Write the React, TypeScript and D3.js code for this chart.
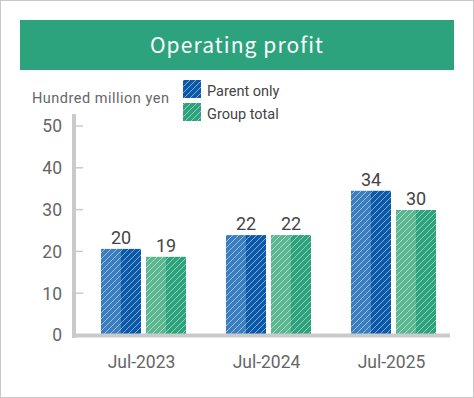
import { useEffect, useRef } from 'react';
import * as d3 from 'd3';

const categories = ['Jul-2023', 'Jul-2024', 'Jul-2025'];
const seriesNames = ['Parent only', 'Group total'];
// bar heights as drawn in the picture
const parentValues = [20.6, 23.9, 34.5];
const groupValues = [18.7, 23.9, 29.9];
// labels printed above the bars
const parentLabels = ['20', '22', '34'];
const groupLabels = ['19', '22', '30'];
const yTicks = [0, 10, 20, 30, 40, 50];

const W = 474;
const H = 398;
const FONT = 'Roboto, "Noto Sans", sans-serif';

const colors = [
  { light: '#3a7ec0', dark: '#0b5aa9' },
  { light: '#5bb692', dark: '#2ca37c' },
];

export default function App() {
  const svgRef = useRef<SVGSVGElement>(null);

  useEffect(() => {
    if (!svgRef.current) return;
    const svg = d3.select(svgRef.current);
    svg.selectAll('*').remove();

    const x0 = d3.scaleBand<string>().domain(categories).range([81, 456]);
    const x1 = d3.scaleBand<string>().domain(seriesNames).range([-42.5, 42.5]).paddingInner(1 / 9);
    const y = d3.scaleLinear().domain([0, 50]).range([335, 126]);

    const defs = svg.append('defs');
    defs.append('pattern')
      .attr('id', 'hatch')
      .attr('patternUnits', 'userSpaceOnUse')
      .attr('width', 6)
      .attr('height', 6)
      .append('path')
      .attr('d', 'M-1,1 l2,-2 M0,6 l6,-6 M5,7 l2,-2')
      .attr('stroke', '#fff')
      .attr('stroke-opacity', 0.55)
      .attr('stroke-width', 0.9);

    // outer frame
    svg.append('rect')
      .attr('x', 0.5).attr('y', 0.5)
      .attr('width', W - 1).attr('height', H - 1)
      .attr('fill', '#fff')
      .attr('stroke', '#c8c8c8');

    // title banner
    svg.append('rect')
      .attr('x', 20).attr('y', 20)
      .attr('width', 434).attr('height', 50)
      .attr('fill', '#2ca37c');
    svg.append('text')
      .attr('x', 237).attr('y', 53)
      .attr('text-anchor', 'middle')
      .attr('fill', '#fff')
      .attr('font-family', '"Noto Sans CJK JP", "Noto Sans", sans-serif')
      .attr('font-size', 21)
      .attr('letter-spacing', 1.1)
      .text('Operating profit');

    // unit label
    svg.append('text')
      .attr('x', 32).attr('y', 103)
      .attr('fill', '#666')
      .attr('font-family', FONT)
      .attr('font-size', 14.5)
      .attr('letter-spacing', 0.5)
      .text('Hundred million yen');

    // legend
    const legend = svg.append('g');
    seriesNames.forEach((name, i) => {
      const ly = 80 + i * 23;
      legend.append('rect').attr('x', 183).attr('y', ly).attr('width', 18).attr('height', 18)
        .attr('fill', colors[i].dark);
      legend.append('rect').attr('x', 183).attr('y', ly).attr('width', 18).attr('height', 18)
        .attr('fill', 'url(#hatch)');
      legend.append('text')
        .attr('x', 207).attr('y', ly + 15.5)
        .attr('fill', '#444')
        .attr('font-family', FONT)
        .attr('font-size', 14.5)
        .text(name);
    });

    // y axis
    svg.append('rect')
      .attr('x', 72).attr('y', 114)
      .attr('width', 4).attr('height', 224)
      .attr('fill', '#cacaca');
    const yAxis = svg.append('g');
    yTicks.forEach((t) => {
      if (t > 0) {
        yAxis.append('line')
          .attr('x1', 76).attr('x2', 83)
          .attr('y1', y(t)).attr('y2', y(t))
          .attr('stroke', '#cacaca').attr('stroke-width', 1.5);
      }
      yAxis.append('text')
        .attr('x', 62).attr('y', y(t))
        .attr('dy', '0.36em')
        .attr('text-anchor', 'end')
        .attr('fill', '#666')
        .attr('font-family', FONT)
        .attr('font-size', 17.5)
        .text(t);
    });

    // bars
    const seriesData = [
      { values: parentValues, labels: parentLabels },
      { values: groupValues, labels: groupLabels },
    ];
    seriesData.forEach((s, si) => {
      const g = svg.append('g');
      categories.forEach((c, ci) => {
        const bx = x0(c)! + x0.bandwidth() / 2 + x1(seriesNames[si])!;
        const bw = x1.bandwidth();
        const top = y(s.values[ci]);
        const h = y(0) - top;
        g.append('rect').attr('x', bx).attr('y', top).attr('width', bw / 2).attr('height', h)
          .attr('fill', colors[si].light);
        g.append('rect').attr('x', bx + bw / 2).attr('y', top).attr('width', bw / 2).attr('height', h)
          .attr('fill', colors[si].dark);
        g.append('rect').attr('x', bx).attr('y', top).attr('width', bw).attr('height', h)
          .attr('fill', 'url(#hatch)');
        g.append('text')
          .attr('x', bx + bw / 2).attr('y', top - 5)
          .attr('text-anchor', 'middle')
          .attr('fill', '#444')
          .attr('font-family', FONT)
          .attr('font-size', 18)
          .text(s.labels[ci]);
      });
    });

    // x axis
    svg.append('rect')
      .attr('x', 72).attr('y', 333.5)
      .attr('width', 378).attr('height', 4)
      .attr('fill', '#cacaca');
    categories.forEach((c) => {
      svg.append('text')
        .attr('x', x0(c)! + x0.bandwidth() / 2 - 2)
        .attr('y', 368)
        .attr('text-anchor', 'middle')
        .attr('fill', '#666')
        .attr('font-family', FONT)
        .attr('font-size', 17.5)
        .text(c);
    });
  }, []);

  return (
    <div style={{ position: 'fixed', left: 0, top: 0 }}>
      <svg ref={svgRef} width={W} height={H} style={{ display: 'block' }} />
    </div>
  );
}
